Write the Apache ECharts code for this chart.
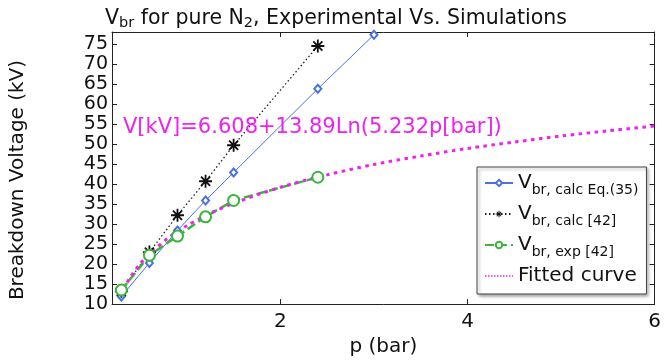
<!DOCTYPE html>
<html>
<head>
<meta charset="utf-8">
<script src="https://cdn.jsdelivr.net/npm/echarts@6/dist/echarts.min.js"></script>
<style>
  html, body { margin: 0; padding: 0; background: #fff; }
  #main { width: 664px; height: 362px; }
</style>
</head>
<body>
<div id="main"></div>
<script>
// values
const pressure = [0.3, 0.6, 0.9, 1.2, 1.5, 2.4, 3.0];
const calcEq35 = [11.9, 20.3, 28.4, 35.9, 42.9, 63.8, 77.3];
const calc42 = [13.2, 23.0, 32.2, 40.7, 49.7, 74.5];
const exp42 = [13.5, 22.2, 27.0, 31.8, 35.9, 41.7];
// fitted curve, points
const fitP = [0.28, 0.4, 0.5, 0.6, 0.8, 1.0, 1.25, 1.5, 2.0, 2.5, 3.0, 3.5, 4.0, 4.5, 5.0, 5.5, 6.0];
const fitV = [11.9, 16.9, 20.0, 22.5, 26.5, 29.6, 32.7, 35.2, 39.2, 42.3, 44.9, 47.0, 48.9, 50.5, 52.0, 53.3, 54.5];

const legendLabels = {
  calcEq35: '{v|V}{s|br, calc Eq.(35)}',
  calc42: '{v|V}{s|br, calc [42]}',
  exp42: '{v|V}{s|br, exp [42]}',
  fit: '{v|Fitted curve}'
};

function pairs(xs, ys) {
  return ys.map((y, i) => [xs[i], y]);
}

const font = 'DejaVu Sans';
// asterisk marker (plus + cross)
const star = 'path://M-1.4,-10 L1.4,-10 L1.4,10 L-1.4,10 Z M-10,-1.4 L10,-1.4 L10,1.4 L-10,1.4 Z ' +
  'M-6,-8 L8,6 L6,8 L-8,-6 Z M6,-8 L8,-6 L-6,8 L-8,6 Z';

const axisLine = { show: true, lineStyle: { color: '#222', width: 1 } };
const tick = { show: true, inside: true, length: 5, lineStyle: { color: '#222' } };

let chart = echarts.init(document.getElementById('main'));
let option = {
  animation: false,
  title: {
    text: '{a|V}{s|br}{a| for pure N}{s|2}{a|, Experimental Vs. Simulations}',
    left: 100,
    top: 2,
    textStyle: {
      fontWeight: 'normal',
      rich: {
        a: { fontFamily: font, fontSize: 20.5, fontWeight: 'normal', color: '#111', lineHeight: 24 },
        s: { fontFamily: font, fontSize: 14.5, fontWeight: 'normal', color: '#111', lineHeight: 8, verticalAlign: 'bottom' }
      }
    }
  },
  grid: { left: 112, right: 6, top: 32, bottom: 56 },
  legend: {
    data: [
      { name: 'calcEq35' },
      { name: 'calc42' },
      { name: 'exp42' },
      { name: 'fit', itemStyle: { opacity: 0 }, lineStyle: { width: 1.5, type: [1.5, 1.5] } }
    ],
    orient: 'vertical',
    left: 477,
    top: 167,
    padding: [3, 8, 5, 7],
    itemGap: 4,
    itemWidth: 28,
    itemHeight: 8,
    backgroundColor: '#fff',
    borderColor: '#444',
    borderWidth: 1,
    shadowColor: 'rgba(0,0,0,0.35)',
    shadowBlur: 3,
    shadowOffsetX: 2,
    shadowOffsetY: 2,
    formatter: name => legendLabels[name],
    textStyle: {
      rich: {
        v: { fontFamily: font, fontSize: 20, color: '#111', height: 26, lineHeight: 26 },
        s: { fontFamily: font, fontSize: 14, color: '#111', height: 12, lineHeight: 12, verticalAlign: 'bottom' }
      }
    }
  },
  xAxis: [
    {
      type: 'value', min: 0.2, max: 6, minInterval: 2, maxInterval: 2,
      name: 'p (bar)', nameLocation: 'middle', nameGap: 28,
      nameTextStyle: { fontFamily: font, fontSize: 20, color: '#111' },
      axisLine: axisLine, axisTick: tick, splitLine: { show: false },
      axisLabel: { fontFamily: font, fontSize: 20, color: '#111', margin: 8, showMinLabel: false }
    },
    {
      type: 'value', position: 'top', min: 0.2, max: 6, minInterval: 2, maxInterval: 2,
      axisLine: axisLine, axisTick: tick, splitLine: { show: false },
      axisLabel: { show: false }
    }
  ],
  yAxis: [
    {
      type: 'value', min: 10, max: 78, interval: 5,
      axisLine: axisLine, axisTick: tick, splitLine: { show: false },
      axisLabel: { fontFamily: font, fontSize: 19, color: '#111', margin: 4, showMaxLabel: false }
    },
    {
      type: 'value', position: 'right', min: 10, max: 78, interval: 5,
      axisLine: axisLine, axisTick: tick, splitLine: { show: false },
      axisLabel: { show: false }
    }
  ],
  graphic: [
    {
      type: 'text', x: 18, y: 180, rotation: Math.PI / 2,
      style: {
        text: 'Breakdown Voltage (kV)', font: '20px "DejaVu Sans"', fill: '#111',
        textAlign: 'center', textVerticalAlign: 'middle'
      }
    },
    {
      type: 'text', x: 123, y: 128, z: 10,
      style: {
        text: 'V[kV]=6.608+13.89Ln(5.232p[bar])', font: '21px "DejaVu Sans"', fill: '#ee22ee',
        textAlign: 'left', textVerticalAlign: 'middle'
      }
    }
  ],
  series: [
    {
      name: 'calcEq35', type: 'line', data: pairs(pressure, calcEq35),
      symbol: 'emptyDiamond', symbolSize: [7, 8],
      lineStyle: { color: '#4b70e2', width: 1 },
      itemStyle: { color: '#4b70e2', borderWidth: 1.3 }
    },
    {
      name: 'calc42', type: 'line', data: pairs(pressure, calc42),
      symbol: star, symbolSize: 13,
      lineStyle: { color: '#222', width: 1.3, type: [1.5, 2.5] },
      itemStyle: { color: '#111' }
    },
    {
      name: 'exp42', type: 'line', data: pairs(pressure, exp42),
      symbol: 'emptyCircle', symbolSize: 11,
      lineStyle: { color: '#3cb43c', width: 2.5, type: [9, 4] },
      itemStyle: { color: '#3cb43c', borderWidth: 2 }
    },
    {
      name: 'fit', type: 'line', data: pairs(fitP, fitV), smooth: 0.3,
      showSymbol: false, symbol: 'none',
      lineStyle: { color: '#ee22ee', width: 3, type: [3.5, 4.5] },
      itemStyle: { color: '#ee22ee' }
    }
  ]
};
chart.setOption(option);
</script>
</body>
</html>
